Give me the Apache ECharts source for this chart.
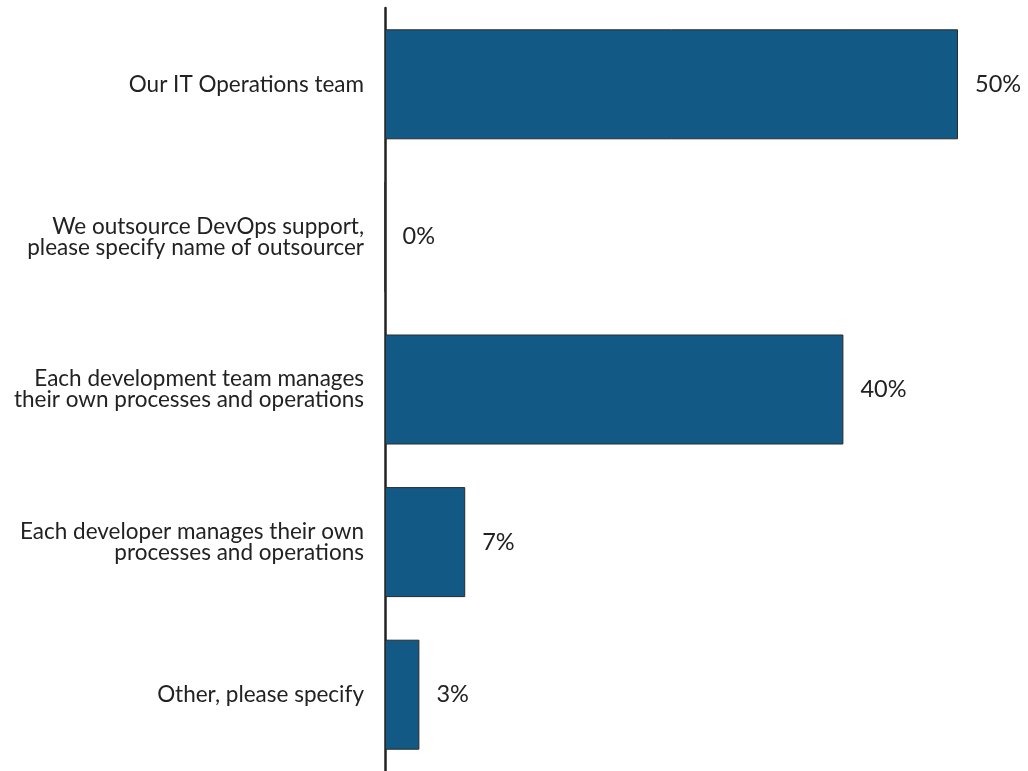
<!DOCTYPE html>
<html>
<head>
<meta charset="utf-8">
<script src="https://cdn.jsdelivr.net/npm/echarts@6/dist/echarts.min.js"></script>
<style>
  html, body { margin: 0; padding: 0; background: #ffffff; }
  #chart { width: 1028px; height: 771px; }
</style>
</head>
<body>
<div id="chart"></div>
<script>
// Who handles DevOps support (share of respondents)
const categories = [
  'Our IT Operations team',
  'We outsource DevOps support,\nplease specify name of outsourcer',
  'Each development team manages\ntheir own processes and operations',
  'Each developer manages their own\nprocesses and operations',
  'Other, please specify'
];
const shares = [50, 0, 40, 7, 3];

const chart = echarts.init(document.getElementById('chart'));
chart.setOption({
  animation: false,
  grid: { left: 385, top: 8, width: 573, bottom: 0, containLabel: false },
  xAxis: {
    type: 'value', min: 0, max: 50,
    show: false
  },
  yAxis: {
    type: 'category',
    data: categories,
    inverse: true,
    axisLine: { show: true, lineStyle: { color: '#222222', width: 2.5 } },
    axisTick: { show: false },
    axisLabel: {
      margin: 21,
      color: '#222222',
      fontFamily: 'Lato',
      fontSize: 22.5,
      lineHeight: 21,
      align: 'right'
    }
  },
  series: [{
    type: 'bar',
    data: shares,
    barWidth: 110,
    itemStyle: { color: '#125a85', borderColor: '#2a2a2a', borderWidth: 1 },
    label: {
      show: true,
      position: 'right',
      distance: 17,
      formatter: p => p.value + '%',
      color: '#222222',
      fontFamily: 'Lato',
      fontSize: 23.5
    }
  }]
});
</script>
</body>
</html>
